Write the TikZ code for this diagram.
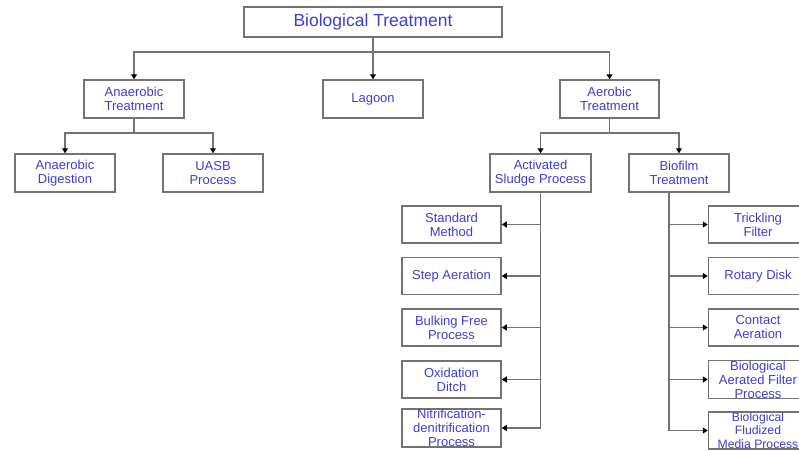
\documentclass[tikz,border=0pt]{standalone}
\usepackage{fontspec}
\setmainfont{Liberation Sans}
\usepackage{tikz}
\usetikzlibrary{arrows.meta}
\definecolor{labelblue}{RGB}{62,62,210}
\definecolor{framegray}{RGB}{115,115,115}

\begin{document}
\begin{tikzpicture}[
    x=1pt, y=-1pt,
    box/.style={draw=framegray, line width=1.5pt, fill=white, align=center,
        text=labelblue, inner xsep=2pt, inner ysep=0pt,
        minimum width=100pt, minimum height=38pt,
        font=\fontsize{13}{14}\selectfont},
    leaf/.style={box, minimum width=99pt, minimum height=37pt},
    wire/.style={draw=framegray, line width=1.4pt},
    link/.style={wire, -{Triangle[length=5pt, width=6pt, color=black]}}
]
    \useasboundingbox[fill=white] (0,0) rectangle (799,450);

    \node[box, minimum width=258pt, minimum height=30pt,
        font=\fontsize{17.5}{20}\selectfont] (bio) at (373,22) {Biological Treatment};

    \node[box] (anaer) at (134,99) {Anaerobic\\Treatment};
    \node[box] (lagoon) at (373,99) {Lagoon};
    \node[box, minimum width=99pt] (aer) at (609.5,99) {Aerobic\\Treatment};

    \node[box] (digest) at (65,173) {Anaerobic\\Digestion};
    \node[box] (uasb) at (213,173) {UASB\\Process};
    \node[box, minimum width=101pt] (sludge) at (540.5,173) {Activated\\Sludge Process};
    \node[box] (biofilm) at (679,173) {Biofilm\\Treatment};

    \node[leaf] (std) at (451.5,224.5) {Standard\\Method};
    \node[leaf] (step) at (451.5,276) {Step Aeration};
    \node[leaf] (bulk) at (451.5,327.5) {Bulking Free\\Process};
    \node[leaf] (oxid) at (451.5,379.5) {Oxidation\\Ditch};
    \node[leaf] (nitri) at (451.5,428) {Nitrification-\\denitrification\\Process};

    \node[leaf] (trick) at (758,224.5) {Trickling\\Filter};
    \node[leaf] (rotary) at (758,276) {Rotary Disk};
    \node[leaf] (contact) at (758,327.5) {Contact\\Aeration};
    \node[leaf] (baf) at (758,379.5) {Biological\\Aerated Filter\\Process};
    \node[leaf, font=\fontsize{12.2}{13.6}\selectfont] (fluid) at (758,430.5)
        {Biological\\Fludized\\Media Process};

    \coordinate (topbus) at (373,52);
    \coordinate (anbus) at (134,133);
    \coordinate (aebus) at (609.5,133);
    \coordinate (bftop) at ([xshift=-10pt]biofilm.south);

    \draw[link] (bio) -- (lagoon);
    \draw[link] (topbus) -| (anaer);
    \draw[link] (topbus) -| (aer);

    \draw[wire] (anaer) -- (anbus);
    \draw[link] (anbus) -| (digest);
    \draw[link] (anbus) -| (uasb);

    \draw[wire] (aer) -- (aebus);
    \draw[link] (aebus) -| (sludge);
    \draw[link] (aebus) -| (biofilm);

    \draw[wire] (sludge.south) -- (sludge.south |- nitri.east);
    \foreach \n in {std,step,bulk,oxid,nitri}
        \draw[link] (sludge.south |- \n.east) -- (\n.east);

    \draw[wire] (bftop) -- (bftop |- fluid.west);
    \foreach \n in {trick,rotary,contact,baf,fluid}
        \draw[link] (bftop |- \n.west) -- (\n.west);
\end{tikzpicture}
\end{document}
